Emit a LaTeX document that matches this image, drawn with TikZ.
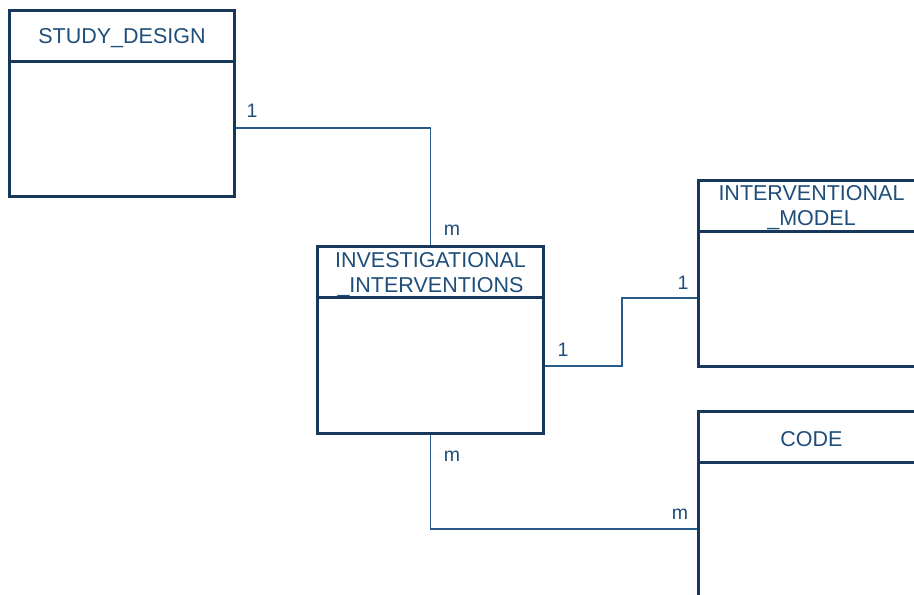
\documentclass[tikz,border=0pt]{standalone}
\usepackage{fontspec}
\setmainfont{Liberation Sans}
\usetikzlibrary{calc}
\definecolor{boxc}{HTML}{17375B}
\definecolor{txtc}{HTML}{1F4E7A}
\definecolor{linkc}{HTML}{2A5A8A}
\tikzset{
  entity/.style={draw=boxc, line width=3pt, rectangle, anchor=north west,
    inner sep=0pt, minimum width=226pt},
  divider/.style={draw=boxc, line width=3pt},
  title/.style={text=txtc, font=\fontsize{21.5}{25}\selectfont, align=center, inner sep=0pt},
  card/.style={text=txtc, font=\fontsize{19.5}{22}\selectfont, inner sep=0pt},
  link/.style={draw=linkc, line width=1.4pt}
}
\begin{document}
\begin{tikzpicture}[x=1pt,y=-1pt]
  \useasboundingbox (0,0) rectangle (914,595);
  \clip (0,0) rectangle (914,595);
  \fill[white] (0,0) rectangle (914,595);

  % entities
  \node[entity, minimum width=225pt, minimum height=186pt] (sd) at (8,9) {};
  \node[entity, minimum height=187pt] (inv) at (316,245) {};
  \node[entity, minimum height=186pt] (im) at (697,179) {};
  \node[entity, minimum height=190pt] (code) at (697,410) {};

  % header dividers
  \draw[divider] ($(sd.north west)+(0,52)$) -- ($(sd.north east)+(0,52)$);
  \draw[divider] ($(inv.north west)+(0,52.5)$) -- ($(inv.north east)+(0,52.5)$);
  \draw[divider] ($(im.north west)+(0,52)$) -- ($(im.north east)+(0,52)$);
  \draw[divider] ($(code.north west)+(0,52)$) -- ($(code.north east)+(0,52)$);

  % entity names
  \node[title] (sdt) at ($(sd.north)+(0,29)$) {STUDY\_DESIGN};
  \node[title] (invt) at ($(inv.north)+(0,30)$) {INVESTIGATIONAL\\\_INTERVENTIONS};
  \node[title] (imt) at ($(im.north)+(0,29)$) {INTERVENTIONAL\\\_MODEL};
  \node[title] (codet) at ($(code.north)+(0,29)$) {CODE};

  % relationships
  \draw[link] ($(sd.north east)+(0,119)$) -| (inv.north);
  \draw[link] ($(inv.north east)+(0,121)$) -- ++(77,0) |- ($(im.north west)+(0,119)$);
  \draw[link] (inv.south) |- ($(code.north west)+(0,119)$);

  % cardinalities
  \node[card] (c1) at (252,111) {1};
  \node[card] (c2) at (452,230) {m};
  \node[card] (c3) at (563,350) {1};
  \node[card] (c4) at (683,283) {1};
  \node[card] (c5) at (452,456) {m};
  \node[card] (c6) at (680,514) {m};
\end{tikzpicture}
\end{document}
